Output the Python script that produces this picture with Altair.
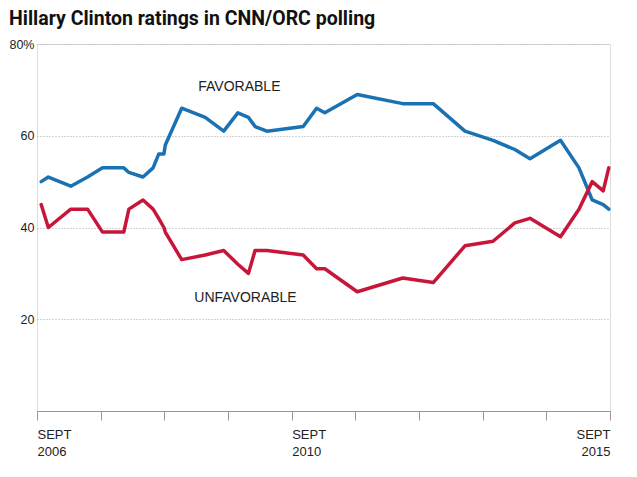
import altair as alt
import pandas as pd

# ---- data ----
dates = [
    "2006-09-25", "2006-11-05", "2007-03-14", "2007-06-18", "2007-09-12",
    "2008-01-12", "2008-02-10", "2008-05-01", "2008-06-28", "2008-07-30",
    "2008-08-29", "2008-09-06", "2008-12-09", "2009-04-23", "2009-08-07",
    "2009-10-27", "2009-12-27", "2010-02-03", "2010-04-12", "2010-11-06",
    "2011-01-22", "2011-03-10", "2011-09-12", "2012-05-30", "2012-11-21",
    "2013-05-22", "2013-10-30", "2014-03-04", "2014-05-30", "2014-11-21",
    "2015-03-07", "2015-05-22", "2015-07-24", "2015-08-25",
]
favorable = [50, 51, 49, 51, 53, 53, 52, 51, 53, 56, 56, 58, 66, 64, 61,
             65, 64, 62, 61, 62, 66, 65, 69, 67, 67, 61, 59, 57, 55, 59,
             53, 46, 45, 44]
unfavorable = [45, 40, 44, 44, 39, 39, 44, 46, 44, 42, 40, 39, 33, 34, 35,
               32, 30, 35, 35, 34, 31, 31, 26, 29, 28, 36, 37, 41, 42, 38,
               44, 50, 48, 53]

series_names = ["FAVORABLE", "UNFAVORABLE"]
series_colors = ["#1a72b2", "#c8163b"]

tick_years = list(range(2006, 2016))
labeled_years = [2006, 2010, 2015]
tick_month_label = "SEPT"
y_ticks = [20, 40, 60, 80]

annot_text = ["FAVORABLE", "UNFAVORABLE"]
annot_dates = ["2009-11-05", "2009-12-10"]
annot_values = [69.8, 23.8]

title_text = "Hillary Clinton ratings in CNN/ORC polling"

# ---- tables ----
rows = []
for d, f, u in zip(dates, favorable, unfavorable):
    rows.append({"date": d, "series": series_names[0], "value": f})
    rows.append({"date": d, "series": series_names[1], "value": u})
df = pd.DataFrame(rows)
annot_df = pd.DataFrame({"date": annot_dates, "value": annot_values, "label": annot_text})

LABEL_FONT = "Liberation Sans"
labeled_list = ",".join(str(y) for y in labeled_years)

x_enc = alt.X(
    "date:T",
    scale=alt.Scale(
        type="utc",
        domain=[alt.DateTime(year=tick_years[0], month=9, date=1, utc=True),
                alt.DateTime(year=tick_years[-1], month=9, date=1, utc=True)],
    ),
    axis=alt.Axis(
        title=None,
        values=[alt.DateTime(year=y, month=9, date=1, utc=True) for y in tick_years],
        labelExpr=f"indexof([{labeled_list}], utcyear(datum.value)) >= 0 ? ['{tick_month_label}', '' + utcyear(datum.value)] : ''",
        labelAlign={"condition": {"test": f"utcyear(datum.value) == {tick_years[-1]}", "value": "right"}, "value": "left"},
        labelOverlap=False,
        labelFont=LABEL_FONT,
        labelFontSize=13,
        labelColor="#222",
        labelLineHeight=17,
        labelPadding=8,
        labelBaseline="top",
        domainColor="#999",
        tickColor="#999",
        tickSize=9,
        grid=False,
    ),
)
y_enc = alt.Y(
    "value:Q",
    scale=alt.Scale(domain=[0, 80]),
    axis=alt.Axis(
        title=None,
        values=y_ticks,
        labelExpr="datum.value == 80 ? '80%' : datum.label",
        labelFont=LABEL_FONT,
        labelFontSize=12.5,
        labelColor="#222",
        labelPadding=3,
        domain=False,
        ticks=False,
        grid=True,
        gridColor="#aaa",
        gridDash=[1, 2],
        gridWidth=1,
    ),
)

lines = alt.Chart(df).mark_line(strokeWidth=3.5, strokeJoin="round", strokeCap="round").encode(
    x=x_enc,
    y=y_enc,
    color=alt.Color("series:N", scale=alt.Scale(domain=series_names, range=series_colors), legend=None),
)

labels = alt.Chart(annot_df).mark_text(
    font=LABEL_FONT, fontSize=14, color="#222", align="center", baseline="alphabetic"
).encode(x=x_enc, y=y_enc, text="label:N")

chart = alt.layer(lines, labels).properties(
    width=573,
    height=367,
    padding={"left": 29, "top": 36, "right": 19, "bottom": 50},
    autosize=alt.AutoSizeParams(type="none"),
    title=alt.TitleParams(
        title_text,
        anchor="start",
        font="Roboto",
        fontSize=19.5,
        fontWeight="bold",
        color="#111",
        baseline="alphabetic",
        offset=0,
        dy=6,
        dx=0,
    ),
).configure_view(stroke=None).configure(background="white")

chart.save("out.html", embed_options={"renderer": "svg", "actions": False})
